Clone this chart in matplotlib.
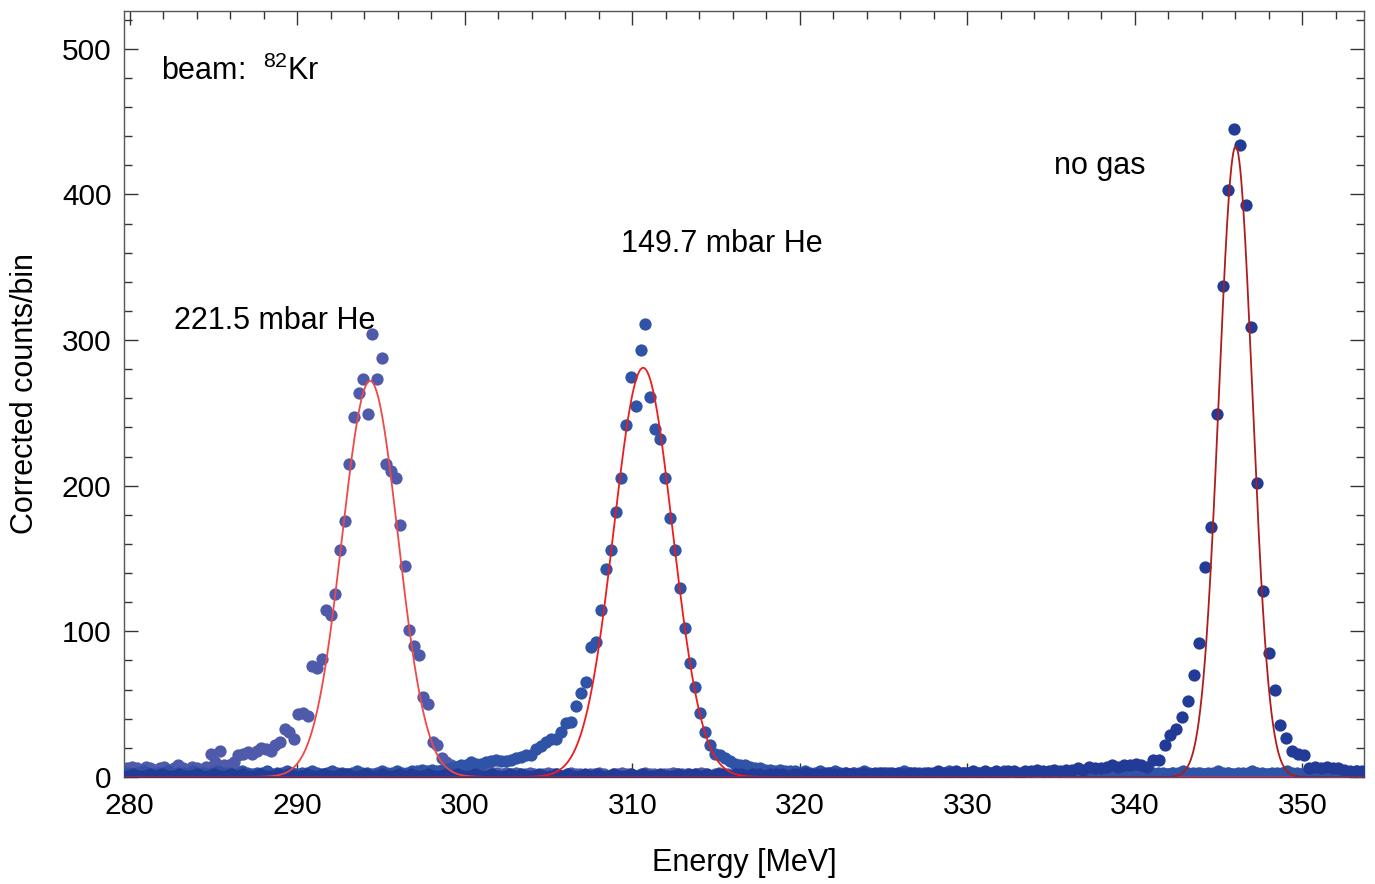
import numpy as np
import matplotlib
matplotlib.use("Agg")
import matplotlib.pyplot as plt
from matplotlib.ticker import MultipleLocator

plt.rcParams['font.family'] = ['Liberation Sans', 'DejaVu Sans']
plt.rcParams['mathtext.fontset'] = 'custom'
plt.rcParams['mathtext.rm'] = 'Liberation Sans'
plt.rcParams['mathtext.it'] = 'Liberation Sans'
plt.rcParams['mathtext.default'] = 'regular'

# ---------------- data ----------------
# 221.5 mbar He : bin grid start / width (MeV) and counts per bin
he221_start, he221_step = 279.86, 0.276
he221_counts = [
    6, 7, 6, 5, 7, 6, 5, 6, 7, 5, 6, 8, 6, 5, 7, 6, 5,
    7, 16, 10, 18, 8, 8, 10, 15, 16, 17, 16, 18, 20, 19, 18, 22, 24,
    33, 31, 26, 43, 44, 42, 76, 75, 81, 115, 111, 126, 156, 176, 215, 247,
    264, 273, 249, 304, 273, 288, 215, 210, 205, 173, 145, 101, 90, 84,
    55, 50, 24, 22, 13, 10, 8, 7,
    6, 5, 5, 4, 4, 3, 4, 3, 3, 2, 3, 2, 3, 2,
    2, 3, 2, 1, 2, 3, 2, 2, 1, 2, 3, 2, 2, 1,
    2, 2, 3, 2, 1, 2, 2, 3, 2, 2, 1, 2, 3, 2,
    2, 1, 2, 2, 3, 2, 2, 2, 1, 2, 3, 2, 1, 2,
    3, 2, 2, 1, 2, 2, 3, 2, 2, 2, 1, 2, 2, 3,
    2, 1, 2, 2, 2, 3, 2, 1, 2, 2, 3, 2, 2, 1,
    2, 3, 2, 2, 1, 2, 2, 2, 3, 2, 2, 1, 2, 2,
    3, 2, 1, 2, 2, 2, 3, 2, 2, 1, 2, 3, 2, 2,
    2, 1, 2, 3, 2, 2, 2, 1, 2, 2, 3, 2, 2, 2,
    1, 2, 3, 2, 2, 2, 1, 2, 2, 3, 2, 2, 1, 2,
    2, 3, 2, 2, 1, 2, 2, 2, 3, 2, 1, 2, 2, 2,
    3, 2, 2, 1, 2, 2, 3, 2, 2, 1, 2, 2, 3, 2,
    2, 1, 2, 2, 3, 2, 2, 2, 1, 2, 3, 2, 2, 1,
    2, 2, 3, 2, 1, 2, 2, 3, 2, 2, 1, 2, 2, 3,
]

# 149.7 mbar He
he149_start, he149_step = 279.902, 0.297
he149_counts = [
    3, 2, 3, 4, 3, 2, 3, 3, 4, 2, 3, 3, 2, 4, 3,
    3, 2, 3, 4, 3, 3, 2, 3, 4, 3, 2, 3, 3, 4, 2,
    3, 3, 4, 3, 2, 3, 3, 4, 3, 2, 3, 4, 3, 3, 2,
    3, 4, 3, 3, 2, 3, 4, 3, 3, 4, 3, 3, 4, 4, 5,
    4, 5, 4, 5, 5,
    6, 7, 8, 8, 10, 9, 9, 10, 11, 12, 11, 11, 12, 13, 14, 15, 15, 19, 21, 24,
    26, 26, 31, 37, 38, 49, 58, 65, 89, 93, 115, 143, 156, 182, 205, 242,
    275, 255, 293, 311, 261, 239, 232, 205, 178, 156, 130, 102, 78, 62,
    44, 31, 22, 16, 15, 13, 11, 9, 8, 8, 7, 6, 6,
    5, 5, 4, 5, 4, 4, 4, 3, 4, 3, 3, 4, 3, 3, 4,
    3, 3, 2, 3, 3, 4, 3, 2, 3, 3, 3, 2, 3, 4, 3,
    2, 3, 3, 3, 2, 3, 3, 4, 3, 2, 3, 3, 2, 3, 3,
    3, 2, 3, 4, 3, 3, 2, 3, 3, 3, 2, 3, 3, 4, 3,
    3, 2, 3, 3, 3, 4, 3, 2, 3, 3, 3, 4, 3, 3, 2,
    3, 3, 4, 3, 3, 3, 2, 3, 3, 4, 3, 3, 3, 2, 3,
    3, 4, 3, 3, 2, 3, 3, 3, 4, 3, 3, 2, 3, 3, 3,
    4, 3, 3, 2, 3, 3, 3, 4, 3, 3, 2, 3, 3, 3, 4,
    3,
]

# no gas
nogas_start, nogas_step = 279.84, 0.346
nogas_counts = [
    1, 2, 1, 1, 2, 1, 2, 1, 1, 2, 1, 1, 2, 1, 1,
    2, 1, 1, 2, 1, 2, 1, 1, 2, 1, 1, 2, 1, 2, 1,
    1, 2, 1, 1, 2, 1, 1, 2, 2, 1, 1, 2, 1, 1, 2,
    1, 1, 2, 1, 2, 1, 1, 2, 1, 1, 2, 1, 2, 1, 1,
    2, 1, 1, 2, 1, 1, 2, 1, 2, 1, 1, 2, 1, 1, 2,
    1, 2, 1, 1, 2, 1, 2, 1, 1, 2, 1, 1, 2, 1, 2,
    1, 1, 2, 1, 1, 2, 1, 2, 2, 1, 2, 1, 2, 2, 1,
    2, 2, 1, 2, 2, 1, 2, 2, 2, 1, 2, 2, 3, 2, 2,
    2, 3, 2, 2, 3, 2, 2, 3, 2, 3, 3, 2, 3, 3, 2,
    3, 3, 2, 3, 3, 4, 3, 3, 4, 3, 3, 4, 3, 4, 3,
    4, 3, 4, 4, 3, 4, 4, 5, 4, 4, 5, 4, 5,
    5, 6, 5, 7, 6, 6, 7, 8, 7, 8, 8, 9, 8, 7,
    12, 12, 22, 29, 33, 41, 52, 70, 92, 144, 172, 249, 337, 403, 445,
    434, 393, 309, 202, 128, 85, 60, 36, 27, 18, 16, 15,
    6, 7, 6, 7, 6, 6, 5, 4, 4, 4,
]

# Gaussian fit parameters: amplitude, mean [MeV], sigma [MeV]
fit_he221 = (272.0, 294.35, 1.67)
fit_he149 = (281.0, 310.65, 1.75)
fit_nogas = (433.0, 346.02, 1.00)

x_ticks = [280, 290, 300, 310, 320, 330, 340, 350]
y_ticks = [0, 100, 200, 300, 400, 500]

# ---------------- plot ----------------
fig = plt.figure(figsize=(13.75, 8.84), dpi=100)
ax = fig.add_axes([124 / 1375, 1 - 777 / 884, (1364 - 124) / 1375, (777 - 11) / 884])

def centers(start, step, counts):
    return start + step * np.arange(len(counts))

ms = 78
ax.scatter(centers(he221_start, he221_step, he221_counts), he221_counts,
           s=ms, color='#4f5aab', lw=0, zorder=2)
ax.scatter(centers(he149_start, he149_step, he149_counts), he149_counts,
           s=ms, color='#2f53a6', lw=0, zorder=3)
ax.scatter(centers(nogas_start, nogas_step, nogas_counts), nogas_counts,
           s=ms, color='#223b96', lw=0, zorder=4)

xf = np.linspace(279.0, 355.0, 4000)
def gauss(x, p):
    a, m, s = p
    return a * np.exp(-0.5 * ((x - m) / s) ** 2)

ax.plot(xf, gauss(xf, fit_he221), color='#f04848', lw=1.3, zorder=5)
ax.plot(xf, gauss(xf, fit_he149), color='#ee1c1c', lw=1.3, zorder=6)
ax.plot(xf, gauss(xf, fit_nogas), color='#b01c1c', lw=1.3, zorder=7)

ax.set_xlim(279.66, 353.68)
ax.set_ylim(0, 526)
ax.set_xticks(x_ticks)
ax.set_yticks(y_ticks)
ax.xaxis.set_minor_locator(MultipleLocator(2))
ax.yaxis.set_minor_locator(MultipleLocator(20))
ax.tick_params(which='both', direction='in', top=True, right=True,
               color='#333333', width=1.0, labelsize=21.5)
ax.tick_params(which='major', length=10)
ax.tick_params(which='minor', length=5.5)
ax.tick_params(axis='x', pad=11)
ax.tick_params(axis='y', pad=9)
for sp in ax.spines.values():
    sp.set_color('#555555')
    sp.set_linewidth(1.0)

ax.set_xlabel('Energy [MeV]', fontsize=22, labelpad=20)
ax.set_ylabel('Corrected counts/bin', fontsize=22, labelpad=16)

ax.text(281.85, 478.4, 'beam:  $^{82}$Kr', fontsize=22, ha='left', va='baseline')
ax.text(282.62, 307.5, '221.5 mbar He', fontsize=22, ha='left', va='baseline')
ax.text(309.33, 360.3, '149.7 mbar He', fontsize=22, ha='left', va='baseline')
ax.text(335.2, 413.9, 'no gas', fontsize=22, ha='left', va='baseline')

fig.savefig('out.png', dpi=100)
